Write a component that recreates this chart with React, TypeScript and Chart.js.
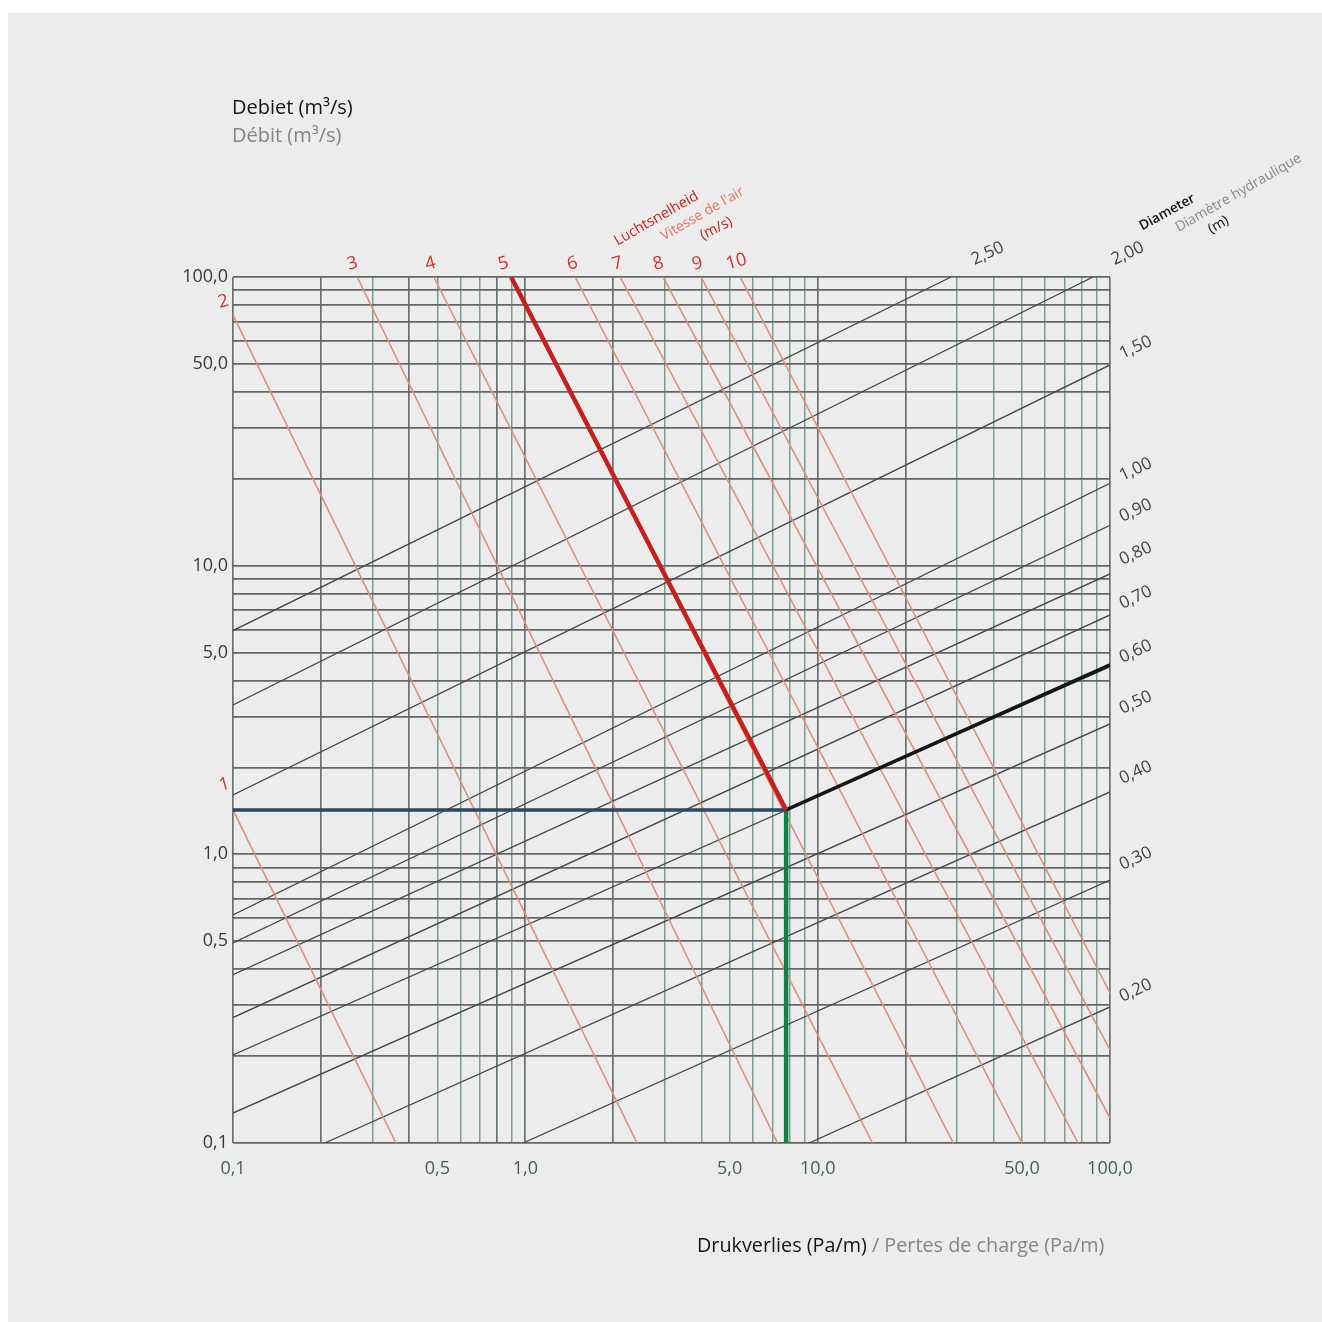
import React, { useEffect, useRef } from "react";
import { Chart, registerables } from "chart.js";

Chart.register(...registerables);

// ---------- data ----------
// grid values (log axes) for pressure drop R (Pa/m) and flow Q (m3/s)
const R_GRID = [0.1, 0.2, 0.3, 0.4, 0.5, 0.6, 0.7, 0.8, 0.9, 1, 2, 3, 4, 5, 6, 7, 8, 9, 10, 20, 30, 40, 50, 60, 70, 80, 90, 100];
const Q_GRID = [0.1, 0.2, 0.3, 0.4, 0.5, 0.6, 0.7, 0.8, 0.9, 1, 2, 3, 4, 5, 6, 7, 8, 9, 10, 20, 30, 40, 50, 60, 70, 80, 90, 100];
const R_TICK_VALUES = [0.1, 0.5, 1, 5, 10, 50, 100];
const R_TICK_LABELS = ["0,1", "0,5", "1,0", "5,0", "10,0", "50,0", "100,0"];
const Q_TICK_VALUES = [0.1, 0.5, 1, 5, 10, 50, 100];
const Q_TICK_LABELS = ["0,1", "0,5", "1,0", "5,0", "10,0", "50,0", "100,0"];
const R_DARK_LINES = [0.1, 0.2, 0.4, 0.8, 1, 2, 10, 20, 100];

// air velocity lines (m/s): start / end points (R, Q)
const VELOCITIES = ["1", "2", "3", "4", "5", "6", "7", "8", "9", "10"];
const VEL_START_R = [0.1, 0.1, 0.266, 0.486, 0.894, 1.48, 2.11, 2.96, 3.99, 5.43];
const VEL_START_Q = [1.425, 73.9, 100, 100, 100, 100, 100, 100, 100, 100];
const VEL_END_R = [0.361, 2.41, 7.29, 15.4, 29.1, 50.0, 77.8, 100, 100, 100];
const VEL_END_Q = [0.1, 0.1, 0.1, 0.1, 0.1, 0.1, 0.1, 0.122, 0.21, 0.331];

// diameter lines (m): start / end points (R, Q)
const DIAMETERS = ["2,50", "2,00", "1,50", "1,00", "0,90", "0,80", "0,70", "0,60", "0,50", "0,40", "0,30", "0,20"];
const DIA_START_R = [0.1, 0.1, 0.1, 0.1, 0.1, 0.1, 0.1, 0.1, 0.1, 0.206, 0.982, 9.35];
const DIA_START_Q = [5.96, 3.29, 1.606, 0.617, 0.493, 0.383, 0.272, 0.202, 0.127, 0.1, 0.1, 0.1];
const DIA_END_R = [28.6, 87.5, 100, 100, 100, 100, 100, 100, 100, 100, 100, 100];
const DIA_END_Q = [100, 100, 49.6, 19.3, 13.8, 9.36, 6.75, 4.46, 2.83, 1.645, 0.815, 0.296];

// worked example
const EX_R = 7.8; // Pa/m
const EX_Q = 1.425; // m3/s
const EX_VEL_TOP_R = 0.894; // 5 m/s line at Q = 100
const EX_DIA_END_Q = 4.53; // diameter line at R = 100

// ---------- layout / style ----------
const FONT = '"Open Sans", Lato, "DejaVu Sans", sans-serif';
const RED = "#d0342c";

const velLabelPos: [number, number][] = [
  [224, 783], [223, 300], [352, 262], [430, 262], [503, 262], [572, 262], [617, 262], [658, 262], [697, 262], [736, 260],
];
const diaLabelPos: [number, number][] = [
  [987, 252], [1127, 252], [1135, 346], [1135, 468], [1135, 509], [1135, 552], [1135, 596], [1135, 650], [1135, 701], [1135, 771], [1135, 857], [1135, 989],
];

function seg(r1: number, q1: number, r2: number, q2: number) {
  return [{ x: r1, y: q1 }, { x: r2, y: q2 }];
}

export default function App() {
  const ref = useRef<HTMLCanvasElement | null>(null);

  useEffect(() => {
    if (!ref.current) return;
    const datasets: any[] = [];
    // bold example lines (on top)
    datasets.push({ data: seg(EX_VEL_TOP_R, 100, EX_R, EX_Q), borderColor: "#c4211c", borderWidth: 4.5, order: 0 });
    datasets.push({ data: seg(EX_R, EX_Q, 100, EX_DIA_END_Q), borderColor: "#151515", borderWidth: 3.5, order: 0 });
    datasets.push({ data: seg(0.1, EX_Q, EX_R, EX_Q), borderColor: "#2d4766", borderWidth: 3.5, order: 0 });
    datasets.push({ data: seg(EX_R, 0.1, EX_R, EX_Q), borderColor: "#138048", borderWidth: 4.5, order: 0 });
    VELOCITIES.forEach((_, i) => {
      datasets.push({
        data: seg(VEL_START_R[i], VEL_START_Q[i], VEL_END_R[i], VEL_END_Q[i]),
        borderColor: "#dd9078",
        borderWidth: 1.6,
        order: 1,
      });
    });
    DIAMETERS.forEach((_, i) => {
      datasets.push({
        data: seg(DIA_START_R[i], DIA_START_Q[i], DIA_END_R[i], DIA_END_Q[i]),
        borderColor: "#474747",
        borderWidth: 1.3,
        order: 1,
      });
    });
    datasets.forEach((d) => {
      d.showLine = true;
      d.pointRadius = 0;
      d.fill = false;
    });

    const rLabel = new Map(R_TICK_VALUES.map((v, i) => [v, R_TICK_LABELS[i]]));
    const qLabel = new Map(Q_TICK_VALUES.map((v, i) => [v, Q_TICK_LABELS[i]]));

    const chart = new Chart(ref.current, {
      type: "scatter",
      data: { datasets },
      options: {
        animation: false,
        responsive: false,
        maintainAspectRatio: false,
        events: [],
        layout: { padding: { left: 173, right: 212, top: 277, bottom: 139 } },
        plugins: { legend: { display: false }, tooltip: { enabled: false } },
        scales: {
          x: {
            type: "logarithmic",
            min: 0.1,
            max: 100,
            afterBuildTicks: (s: any) => {
              s.ticks = R_GRID.map((v) => ({ value: v }));
            },
            afterFit: (s: any) => {
              s.height = 40;
            },
            border: { display: false },
            grid: {
              drawTicks: false,
              color: (c: any) => (R_DARK_LINES.includes(c.tick?.value) ? "#69716e" : "#74a08f"),
              lineWidth: (c: any) => (R_DARK_LINES.includes(c.tick?.value) ? 1.7 : 1.5),
            },
            ticks: {
              autoSkip: false,
              maxRotation: 0,
              minRotation: 0,
              padding: 15,
              color: "#3f6450",
              font: { family: FONT, size: 18 },
              callback: (v: any) => rLabel.get(Number(v)) ?? "",
            },
          },
          y: {
            type: "logarithmic",
            min: 0.1,
            max: 100,
            afterBuildTicks: (s: any) => {
              s.ticks = Q_GRID.map((v) => ({ value: v }));
            },
            afterFit: (s: any) => {
              s.width = 60;
            },
            border: { display: false },
            grid: {
              drawTicks: false,
              color: "#666666",
              lineWidth: 1.8,
            },
            ticks: {
              autoSkip: false,
              padding: 5,
              color: "#3a3a3a",
              font: { family: FONT, size: 18 },
              callback: (v: any) => qLabel.get(Number(v)) ?? "",
            },
          },
        },
      } as any,
    });
    return () => chart.destroy();
  }, []);

  const abs = (x: number, y: number, rot: number, extra: React.CSSProperties): React.CSSProperties => ({
    position: "absolute",
    left: x,
    top: y,
    transform: `translate(-50%, -50%) rotate(${rot}deg)`,
    whiteSpace: "nowrap",
    fontFamily: FONT,
    lineHeight: 1,
    ...extra,
  });

  return (
    <div style={{ position: "fixed", left: 0, top: 0, width: 1322, height: 1322, background: "#ffffff", overflow: "hidden" }}>
      <div style={{ position: "absolute", left: 8, top: 13, width: 1314, height: 1309, background: "#ececec" }} />
      <canvas ref={ref} width={1322} height={1322} style={{ position: "absolute", left: 0, top: 0, width: 1322, height: 1322 }} />

      <div style={{ position: "absolute", left: 232, top: 97, fontFamily: FONT, fontSize: 20, color: "#151515", lineHeight: 1, whiteSpace: "nowrap" }}>
        Debiet (m³/s)
      </div>
      <div style={{ position: "absolute", left: 232, top: 125, fontFamily: FONT, fontSize: 20, color: "#858585", lineHeight: 1, whiteSpace: "nowrap" }}>
        Débit (m³/s)
      </div>

      <div style={abs(656, 218, -30, { fontSize: 14.5, color: "#d0201a" })}>Luchtsnelheid</div>
      <div style={abs(702, 213, -30, { fontSize: 14, color: "#e8735e" })}>Vitesse de l'air</div>
      <div style={abs(716, 228, -27, { fontSize: 14.5, color: "#c0201a" })}>(m/s)</div>

      <div style={abs(1167, 212, -29, { fontSize: 13.5, color: "#111111", fontWeight: 600 })}>Diameter</div>
      <div style={abs(1238, 192, -30, { fontSize: 14, color: "#8a8a8a" })}>Diamètre hydraulique</div>
      <div style={abs(1218, 224, -30, { fontSize: 14, color: "#111111" })}>(m)</div>

      {VELOCITIES.map((v, i) => (
        <div key={"v" + v} style={abs(velLabelPos[i][0], velLabelPos[i][1], -15, { fontSize: 18, color: RED })}>
          {v}
        </div>
      ))}
      {DIAMETERS.map((d, i) => (
        <div key={"d" + d} style={abs(diaLabelPos[i][0], diaLabelPos[i][1], -25, { fontSize: 17, color: "#404040" })}>
          {d}
        </div>
      ))}

      <div style={{ position: "absolute", left: 697, top: 1235, fontFamily: FONT, fontSize: 19.8, lineHeight: 1, whiteSpace: "nowrap" }}>
        <span style={{ color: "#151515" }}>Drukverlies (Pa/m)</span>
        <span style={{ color: "#858585" }}> / Pertes de charge (Pa/m)</span>
      </div>
    </div>
  );
}
